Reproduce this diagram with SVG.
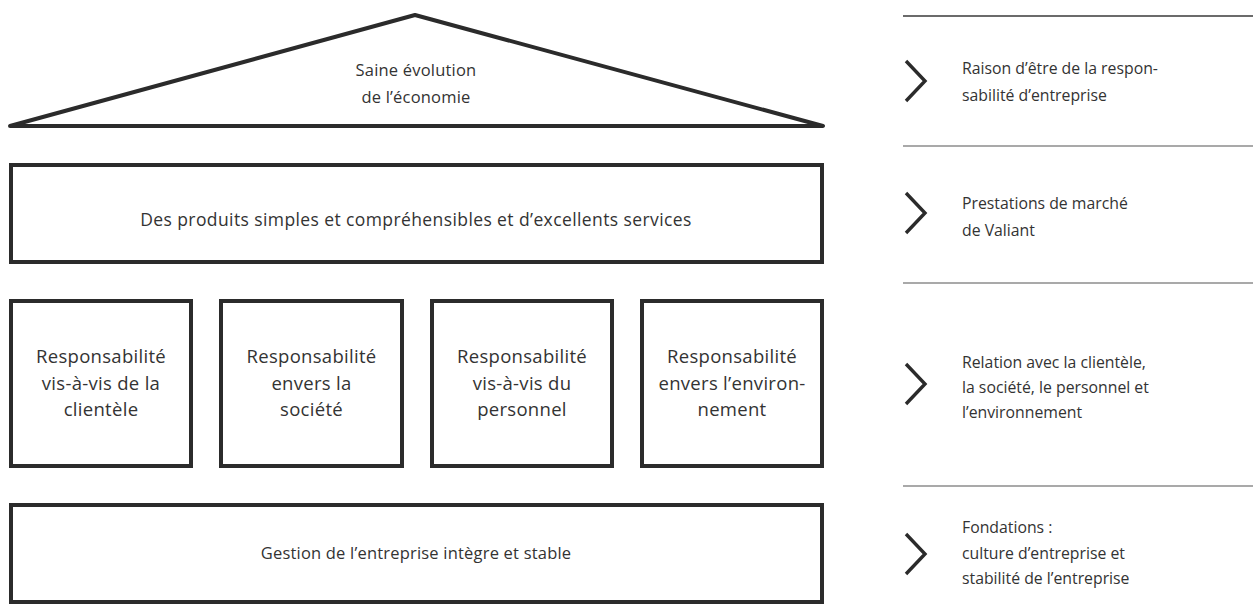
<svg xmlns="http://www.w3.org/2000/svg" width="1259" height="613" viewBox="0 0 1259 613">
<style>
.shape{fill:#fff;stroke:#2b2b2b;stroke-width:4;stroke-linejoin:miter}
.roof{fill:#fff;stroke:#2b2b2b;stroke-width:4;stroke-linejoin:round;stroke-linecap:round}
.t{font-family:"Open Sans","Liberation Sans",sans-serif;font-size:15.8px;fill:#333}
.l{font-size:16.5px;letter-spacing:0.2px}
.w{font-size:17.5px;letter-spacing:0.4px}
.p{font-size:18.5px;letter-spacing:0.3px}
.c{text-anchor:middle}
.sep{stroke:#8c8c8c;stroke-width:1.5}
.chev{fill:none;stroke:#2b2b2b;stroke-width:3.4;stroke-linecap:butt;stroke-linejoin:miter}
</style>
<rect width="1259" height="613" fill="#fff"/>
<g id="roof">
<polygon class="roof" points="10,126 415,15 823,126"/>
<text class="t l c" x="416" y="76">Saine évolution</text>
<text class="t l c" x="416" y="103">de l’économie</text>
</g>
<g id="services">
<rect class="shape" x="11" y="165" width="811" height="97"/>
<text class="t w c" x="416" y="226">Des produits simples et compréhensibles et d’excellents services</text>
</g>
<g id="pillar-clientele">
<rect class="shape" x="11" y="301" width="180" height="165"/>
<text class="t p c" x="101" y="363">Responsabilité</text>
<text class="t p c" x="101" y="389.5">vis-à-vis de la</text>
<text class="t p c" x="101" y="416">clientèle</text>
</g>
<g id="pillar-societe">
<rect class="shape" x="221" y="301" width="181" height="165"/>
<text class="t p c" x="311.5" y="363">Responsabilité</text>
<text class="t p c" x="311.5" y="389.5">envers la</text>
<text class="t p c" x="311.5" y="416">société</text>
</g>
<g id="pillar-personnel">
<rect class="shape" x="432" y="301" width="180" height="165"/>
<text class="t p c" x="522" y="363">Responsabilité</text>
<text class="t p c" x="522" y="389.5">vis-à-vis du</text>
<text class="t p c" x="522" y="416">personnel</text>
</g>
<g id="pillar-environnement">
<rect class="shape" x="642" y="301" width="180" height="165"/>
<text class="t p c" x="732" y="363">Responsabilité</text>
<text class="t p c" x="732" y="389.5">envers l’environ-</text>
<text class="t p c" x="732" y="416">nement</text>
</g>
<g id="foundation">
<rect class="shape" x="11" y="505" width="811" height="97"/>
<text class="t l c" x="416" y="559">Gestion de l’entreprise intègre et stable</text>
</g>
<g id="connectors">
<line x1="903" y1="16" x2="1253" y2="16" stroke="#3a3a3a" stroke-width="1.3"/>
<line class="sep" x1="903" y1="146" x2="1253" y2="146"/>
<line class="sep" x1="903" y1="283" x2="1253" y2="283"/>
<line class="sep" x1="903" y1="486" x2="1253" y2="486"/>
<polyline class="chev" points="906,61 925,81 906,101"/>
<polyline class="chev" points="906,193 925,213 906,233"/>
<polyline class="chev" points="906,364 925,384 906,404"/>
<polyline class="chev" points="906,534 925,554 906,574"/>
</g>
<g id="label-raison">
<text class="t" x="962" y="74">Raison d’être de la respon-</text>
<text class="t" x="962" y="101">sabilité d’entreprise</text>
</g>
<g id="label-prestations">
<text class="t" x="962" y="209">Prestations de marché</text>
<text class="t" x="962" y="236">de Valiant</text>
</g>
<g id="label-relation">
<text class="t" x="962" y="368">Relation avec la clientèle,</text>
<text class="t" x="962" y="393">la société, le personnel et</text>
<text class="t" x="962" y="418">l’environnement</text>
</g>
<g id="label-fondations">
<text class="t" x="962" y="533">Fondations :</text>
<text class="t" x="962" y="559">culture d’entreprise et</text>
<text class="t" x="962" y="584">stabilité de l’entreprise</text>
</g>
</svg>
